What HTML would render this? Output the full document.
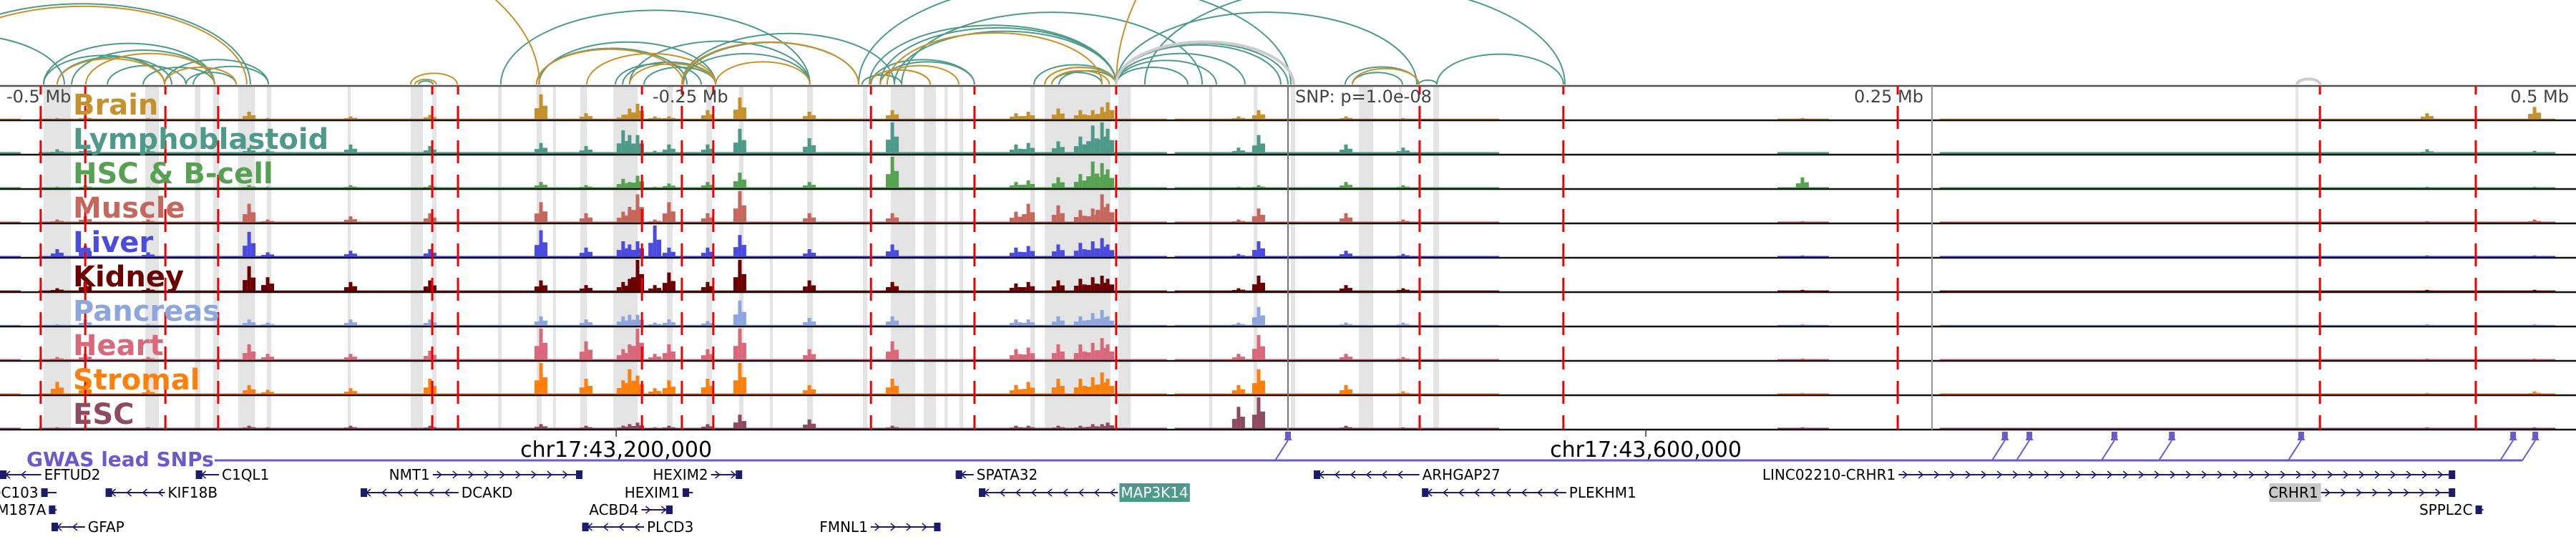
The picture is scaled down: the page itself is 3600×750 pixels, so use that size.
<!DOCTYPE html>
<html><head><meta charset="utf-8">
<style>
html,body{margin:0;padding:0;background:#fff;}
svg{display:block;}
text{font-family:"DejaVu Sans","Liberation Sans",sans-serif;}
</style></head>
<body>
<svg id="fig" xmlns="http://www.w3.org/2000/svg" width="3600" height="750" viewBox="0 0 3600 750">
<g id="arcs"></g>
<g id="bands"></g>
<g id="tracks"></g>
<g id="overlay"></g>
<g id="labels"></g>
<g id="gwas"></g>
<g id="genes"></g>
</svg>
<script>
// ---- data (genomic positions in kb relative to lead SNP) ----
const trackNames = ["Brain","Lymphoblastoid","HSC & B-cell","Muscle","Liver","Kidney","Pancreas","Heart","Stromal","ESC"];
const trackColors = ["#c5912d","#4e9a8a","#57a153","#c5675c","#4b4be0","#6b0000","#8ea6e0","#d9697a","#ff7f0e","#8e4a63"];
const peakPos = [-477.8,-466.9,-442.5,-403.3,-396.1,-363.9,-333.1,-290,-272.5,-258.1,-255.6,-252.5,-245.8,-240.3,-225.3,-212.8,-185.8,-153.6,-105.6,-100.8,-89.2,-80.6,-75.8,-72.2,-70,-19.2,-11.4,22.5,44.7,199.7,442.2,483.9];
const brainVals   = [.05,.1,.05,.25,.05,.1,.15,.8,.2,.15,.35,.5,.1,.1,.3,.7,.25,.3,.2,.25,.35,.3,.3,.4,.55,.1,.3,.1,.05,.05,.2,.4];
const lymphVals   = [.15,.2,.15,.2,.15,.3,.25,.35,.25,.75,.6,.6,.1,.3,.3,.8,.5,1.0,.3,.35,.4,.55,.9,1.0,.8,.2,.6,.3,.2,.05,.15,.1];
const hscVals     = [.05,.1,.05,.1,.05,.1,.1,.2,.1,.3,.2,.4,.05,.15,.2,.5,.2,1.0,.2,.25,.35,.45,.85,.8,.6,.05,.1,.2,.1,.35,.05,.05];
const muscleVals  = [.1,.2,.1,.6,.1,.2,.3,.65,.3,.35,.5,.9,.1,.65,.3,1.0,.3,.3,.35,.6,.55,.4,.45,.9,.6,.1,.45,.3,.1,.05,.05,.1];
const liverVals   = [.25,.35,.15,.8,.15,.2,.25,.85,.3,.5,.4,.5,1.0,.3,.3,.7,.25,.4,.3,.35,.4,.45,.5,.6,.4,.1,.5,.2,.1,.05,.05,.05];
const kidneyVals  = [.1,.3,.1,.8,.45,.3,.35,.35,.2,.3,.4,1.0,.2,.6,.3,1.0,.35,.3,.25,.3,.35,.4,.45,.5,.4,.1,.5,.2,.1,.05,.05,.05];
const pancVals    = [.05,.2,.05,.2,.1,.2,.2,.3,.2,.3,.35,.35,.1,.2,.15,.8,.25,.3,.2,.2,.3,.3,.4,.5,.3,.1,.6,.1,.1,.05,.05,.05];
const heartVals   = [.1,.2,.1,.5,.2,.2,.3,1.0,.6,.35,.5,1.0,.2,.5,.35,1.0,.35,.6,.35,.4,.5,.5,.55,.7,.5,.2,.8,.2,.1,.05,.05,.05];
const stromalVals = [.4,.3,.15,.3,.15,.2,.5,1.0,.5,.45,.8,.6,.2,.45,.5,1.0,.3,.5,.3,.4,.5,.5,.55,.7,.5,.3,.8,.3,.1,.05,.05,.1];
const escVals     = [.05,.05,.05,.1,.05,.1,.1,.15,.1,.1,.15,.2,.05,.1,.15,.45,.3,.1,.1,.1,.1,.1,.15,.15,.2,.7,1.0,.1,.05,.05,.05,.05];
const basalVals   = [.03,.06,.035,.035,.035,.03,.03,.035,.035,.035];
const coverage    = [[-500,-492],[-485,-47],[-44,82],[190,210],[253,492]];
const redLines    = [-484.2,-466.9,-435.8,-415.3,-332.2,-322.2,-250.8,-235.3,-223.1,-161.9,-121.7,-66.7,51.1,106.9,236.7,400.6,461.1];
const bands = [[-483.1,-472.5],[-443.6,-438.3],[-424.4,-422.2],[-417.2,-415],[-407.5,-401.1],[-396.4,-394.7],[-365,-363.9],[-340.6,-335.8],[-332.2,-330.6],[-306.7,-305.3],[-291.7,-289.7],[-285.3,-284.2],[-274.7,-272.2],[-261.9,-252.5],[-241.1,-238.9],[-225.8,-223.6],[-213.1,-211.4],[-201.1,-200],[-186.7,-184.4],[-165,-163.3],[-154.2,-144.7],[-141.4,-136.7],[-133.3,-132.2],[-127.5,-126.1],[-100,-98.3],[-94.4,-68.9],[-65.8,-61.1],[-30.6,-29.4],[-13.3,-11.9],[1.1,2.8],[27.5,33.1],[43.1,44.2],[56.4,58.6],[391.1,392.2]];
const arcStart = [-533.3,-483.1,-483.1,-477.8,-472.2,-458.3,-444.4,-436.1,-427.8,-425,-555.6,
  -337.5,-305.6,-291.7,-290.8,-261.1,-258.3,-255.6,-250,-235.3,-235.3,-234.7,-165.3,-162.5,-161.9,-158.3,-150,-166.7,-55.6,-98.6,-94.4,-91.7,-88.9,-162.5,-158.3,-152.8,-66.7,-66.7,-66.7,-66.7,-66.7,-66.7,22.2,25,50.8,57.8,
  -530.6,-477.8,-466.7,-436.1,-340.6,-338.9,-583.3,-291.7,-272.2,-255.6,-235.3,-222.2,-162.5,-158.3,-94.4,-91.7,-66.7,25,-155.6,
  -66.7,391.7];
const arcEnd = [-402.8,-436.1,-416.7,-433.3,-416.7,-427.8,-416.7,-395.8,-408.3,-395.8,-475,
  -331.9,-185.6,-233.3,-222.2,-227.8,-222.2,-185.6,-222.2,-185.6,-152.8,-166.7,-150,-138.9,-121.7,-121.7,-33.3,1.1,107.5,-66.7,-66.7,-72.2,-66.7,-66.7,-66.7,-66.7,0,-2.8,-38.9,-27.8,-16.7,50,50.6,44.4,57.8,106.9,
  -404.2,-436.1,-416.7,-408.3,-322.5,-330.6,-290.6,-234.7,-222.2,-222.2,-166.7,-185.6,-138.9,-127.8,-66.7,-69.4,555.6,50.8,-72.2,
  2.2,400.6];
const arcColor = ["t","t","t","t","t","t","t","t","t","t","t",
  "t","t","t","t","t","t","t","t","t","t","t","t","t","t","t","t","t","t","t","t","t","t","t","t","t","t","t","t","t","t","t","t","t","t","t",
  "g","g","g","g","g","g","g","g","g","g","g","g","g","g","g","g","g","g","g",
  "x","x"];
const snpPos = [0,278.3,287.8,320.8,343.1,393.3,475.6,484.2];
const geneNames  = ["EFTUD2","C1QL1","NMT1","HEXIM2","CCDC103","KIF18B","DCAKD","HEXIM1","FAM187A","ACBD4","SPPL2C","GFAP","PLCD3","FMNL1","SPATA32","MAP3K14","ARHGAP27","PLEKHM1","LINC02210-CRHR1","CRHR1"];
const geneStart  = [-500,-424,-332,-224,-484,-459,-360,-235,-481,-251,461,-480,-274,-162,-129,-120,10,52,237,401];
const geneEnd    = [-484,-415,-275,-213,-478,-436,-322,-231,-478,-240,464,-467,-250,-136,-122,-66,51,108,452,452];
const geneStrand = [-1,-1,1,1,0,-1,-1,0,0,1,0,-1,-1,1,-1,-1,-1,-1,1,1];
const geneRow    = [0,0,0,0,1,1,1,1,2,2,2,3,3,3,0,1,0,1,0,1];
const geneLabelLeft = [0,0,1,1,1,0,0,1,1,1,1,0,0,1,0,0,0,0,1,1];
const geneHighlight = ["","","","","","","","","","","","","","","","#4e9a8a","","","","#c8c8c8"];
const mbTicks = [-500,-250,250,500];
const mbLabels = ["-0.5 Mb","-0.25 Mb","0.25 Mb","0.5 Mb"];
const chrTicks = [-260.8,138.9];
const chrLabels = ["chr17:43,200,000","chr17:43,600,000"];

// ---- axes ----
const PX_PER_KB = 3.6, X0 = 1800;
const xs = kb => X0 + kb*PX_PER_KB;
const TOP = 120, TH = 48, BARMAX = 44;
const trackY = i => TOP + TH*i;
const valH = v => v*BARMAX;
const NS = "http://www.w3.org/2000/svg";
function mk(tag, attrs, parent){const e=document.createElementNS(NS,tag);for(const k in attrs)e.setAttribute(k,attrs[k]);parent.appendChild(e);return e;}
const trackVals = [brainVals,lymphVals,hscVals,muscleVals,liverVals,kidneyVals,pancVals,heartVals,stromalVals,escVals];

// arcs
const gArcs = document.getElementById('arcs');
const arcCol = {t:"#4e9a8a", g:"#c8922a", x:"#cccccc"};
for(let i=0;i<arcStart.length;i++){
  const x1=xs(arcStart[i]), x2=xs(arcEnd[i]); const rx=(x2-x1)/2, ry=(x2-x1)*0.24;
  const p=mk('path',{d:`M${x1} 118 A${rx} ${ry} 0 0 1 ${x2} 118`,fill:"none",stroke:arcCol[arcColor[i]],"stroke-width":arcColor[i]==="x"?4:2},gArcs);
  
  
}
// bands
const gB = document.getElementById('bands');
bands.forEach(b=>{
  const r=mk('rect',{x:xs(b[0]),y:TOP,width:Math.max(3,xs(b[1])-xs(b[0])),height:TH*10,fill:"#e4e4e4"},gB);
  
  
});
// tracks
const gT = document.getElementById('tracks');
trackVals.forEach((vals,ti)=>{
  const base = trackY(ti)+TH-1;
  const g=mk('g',{},gT);
  
  
  coverage.forEach(c=>{
    mk('rect',{x:xs(c[0]),y:base-valH(basalVals[ti]),width:xs(c[1])-xs(c[0]),height:valH(basalVals[ti]),fill:trackColors[ti]},g);
  });
  vals.forEach((v,pi)=>{
    const cx=xs(peakPos[pi]);
    const b=mk('rect',{x:cx-2.5,y:base-valH(v),width:5,height:valH(v),fill:trackColors[ti]},g);
    
    
    mk('rect',{x:cx-9,y:base-valH(v*0.45),width:6.5,height:valH(v*0.45),fill:trackColors[ti]},g);
    mk('rect',{x:cx+2.5,y:base-valH(v*0.55),width:6.5,height:valH(v*0.55),fill:trackColors[ti]},g);
  });
});
// overlay lines
const gO = document.getElementById('overlay');
for(let i=0;i<=10;i++){
  const l=mk('line',{x1:0,x2:3600,y1:trackY(i),y2:trackY(i),stroke:i===0?"#555":"#111","stroke-width":2.5},gO);
  
  
}
mk('line',{x1:xs(0),x2:xs(0),y1:TOP,y2:TOP+TH*10,stroke:"#777","stroke-width":2},gO);
mk('line',{x1:xs(250),x2:xs(250),y1:TOP,y2:TOP+TH*10,stroke:"#999","stroke-width":2},gO);
redLines.forEach(k=>{
  const l=mk('line',{x1:xs(k),x2:xs(k),y1:TOP,y2:TOP+TH*10,stroke:"#ee0000","stroke-width":3,"stroke-dasharray":"12 16 20 0"},gO);
  
  
});
mbTicks.forEach((k,i)=>{
  const left = k<0;
  const t=mk('text',{x:left?xs(k)+(k===-500?9:12):xs(k)-(k===500?10:12),y:143,"font-size":24,fill:"#444","text-anchor":left?"start":"end"},gO);
  t.textContent=mbLabels[i];
  
  
});
const snpT=mk('text',{x:xs(0)+10,y:143,"font-size":24,fill:"#444"},gO);snpT.textContent="SNP: p=1.0e-08";

// labels
const gL=document.getElementById('labels');
trackNames.forEach((n,i)=>{
  const t=mk('text',{x:102,y:trackY(i)+40,"font-size":40,"font-weight":"bold",fill:trackColors[i],"font-family":"DejaVu Sans, sans-serif"},gL);
  t.textContent=n;
  
  
});
// chr axis
chrTicks.forEach((k,i)=>{
  mk('line',{x1:xs(k),x2:xs(k),y1:600,y2:610,stroke:"#333","stroke-width":1.5},gL);
  const t=mk('text',{x:xs(k),y:638,"font-size":30,"text-anchor":"middle",fill:"#000"},gL);
  t.textContent=chrLabels[i];
  
  
});
// GWAS
const gG=document.getElementById('gwas');
const gt=mk('text',{x:37,y:651,"font-size":28,"font-weight":"bold",fill:"#6a5acd"},gG);gt.textContent="GWAS lead SNPs";

mk('line',{x1:300,x2:xs(snpPos[snpPos.length-1])-18,y1:643,y2:643,stroke:"#6a5acd","stroke-width":3},gG);
snpPos.forEach(k=>{
  const x=xs(k);
  const r=mk('rect',{x:x-4,y:603,width:8,height:10,fill:"#6a5acd"},gG);
  
  
  mk('line',{x1:x-5,x2:x+5,y1:614,y2:614,stroke:"#6a5acd","stroke-width":2},gG);
  mk('line',{x1:x,y1:615,x2:x-18,y2:643,stroke:"#6a5acd","stroke-width":2},gG);
});
// genes
const gN=document.getElementById('genes');
const rowY=[663,688,712,736];
geneNames.forEach((n,i)=>{
  const y=rowY[geneRow[i]], x1=xs(geneStart[i]), x2=xs(geneEnd[i]);
  const g=mk('g',{},gN);
  
  
  mk('line',{x1:x1,x2:x2,y1:y,y2:y,stroke:"#1c1c6e","stroke-width":2},g);
  if(geneStrand[i]!==0){
    for(let x=x1+10;x<x2-6;x+=22){
      const d=geneStrand[i]>0?`M${x-4} ${y-5} L${x+2} ${y} L${x-4} ${y+5}`:`M${x+4} ${y-5} L${x-2} ${y} L${x+4} ${y+5}`;
      mk('path',{d:d,fill:"none",stroke:"#1c1c6e","stroke-width":1.5},g);
    }
  }
  const bx = geneStrand[i]>0? x2-5 : x1;
  mk('rect',{x:bx,y:y-6,width:Math.min(9,Math.max(5,x2-x1)),height:12,fill:"#1c1c6e"},g);
  const lx = geneLabelLeft[i]? x1-4 : x2+4;
  const fs=20, tw=n.length*fs*0.66;
  if(geneHighlight[i]){
    mk('rect',{x:geneLabelLeft[i]?lx-tw-2:lx-2,y:y-13,width:tw+6,height:26,fill:geneHighlight[i]},g);
  }
  const t=mk('text',{x:lx,y:y+7,"font-size":fs,fill:geneHighlight[i]==="#4e9a8a"?"#fff":"#000","text-anchor":geneLabelLeft[i]?"end":"start"},g);
  t.textContent=n;
});
</script>
</body></html>
